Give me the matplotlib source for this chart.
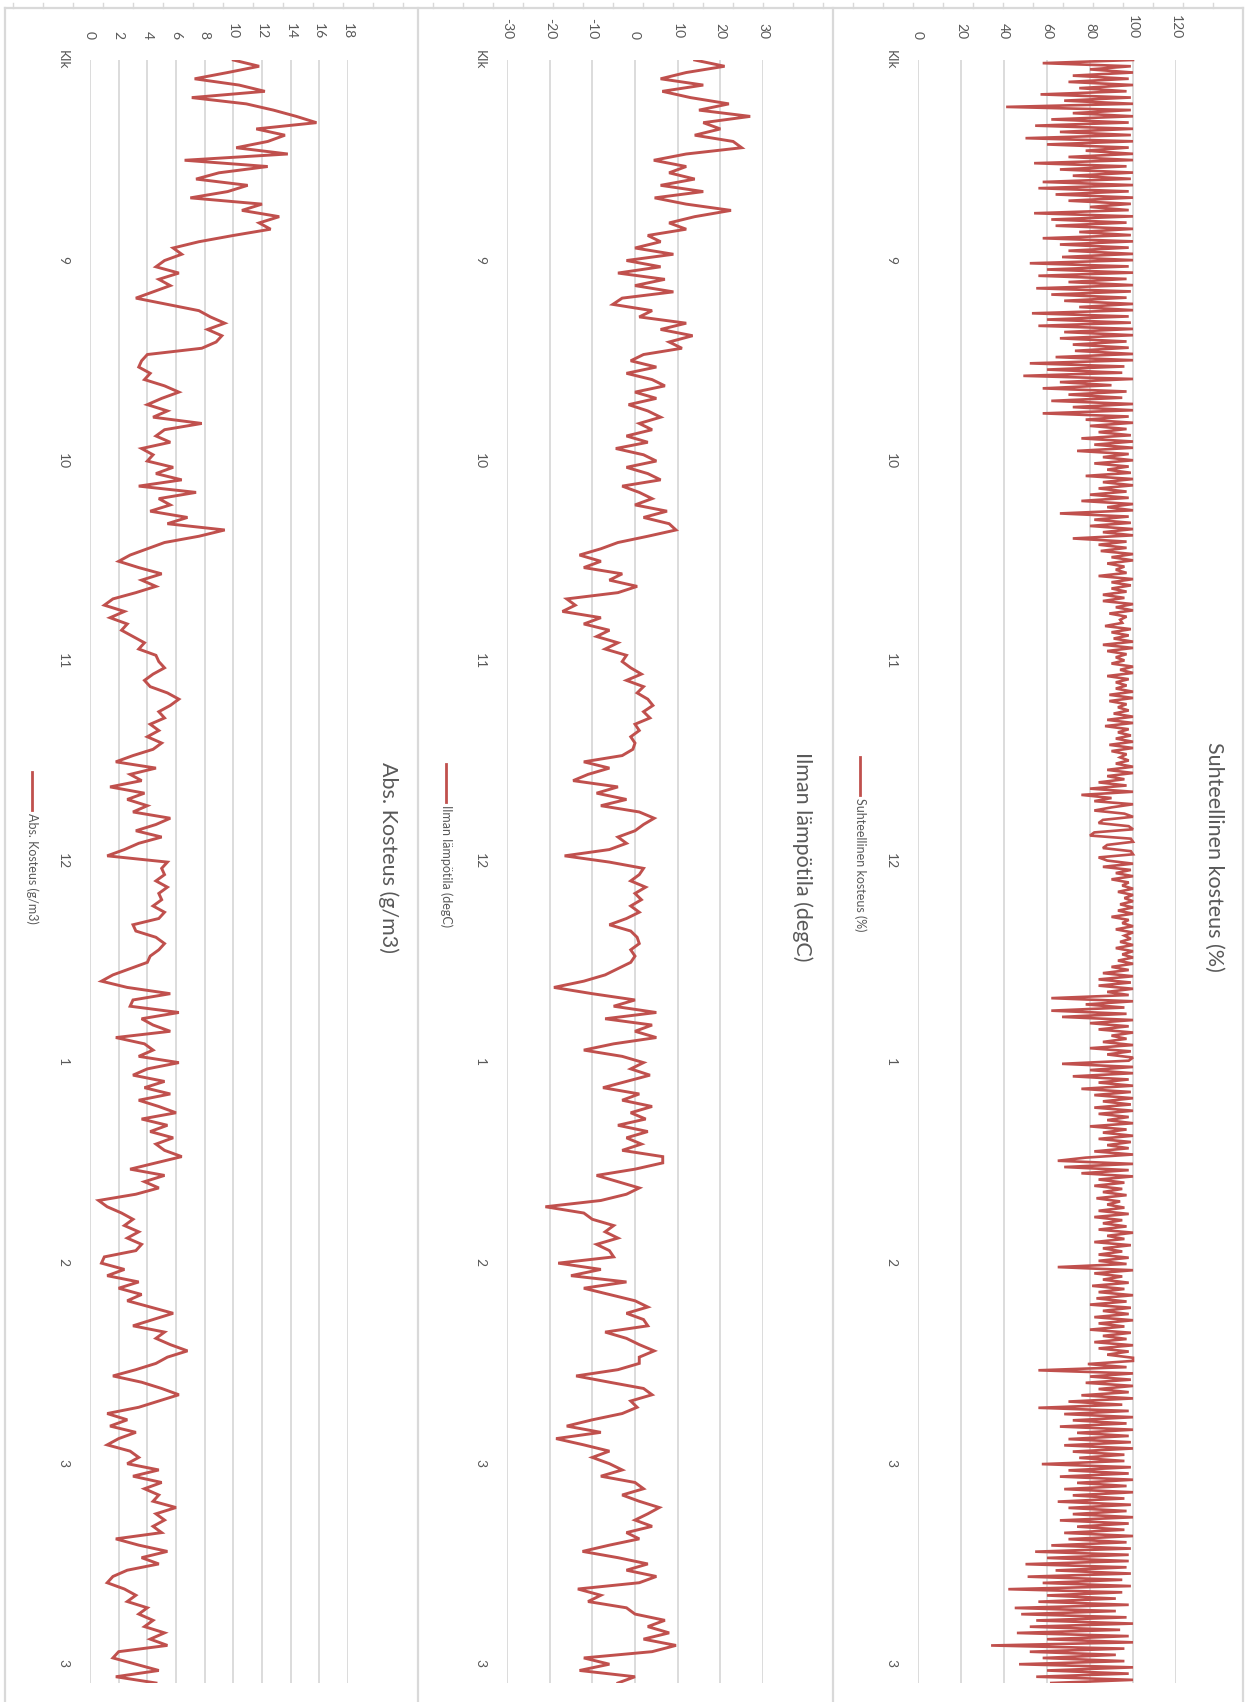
import numpy as np
import matplotlib
matplotlib.use("Agg")
import matplotlib.pyplot as plt
from matplotlib.lines import Line2D

plt.rcParams['font.family'] = ['Lato', 'DejaVu Sans']

# ---------------- data ----------------
time_labels = ["Klk", "9", "10", "11", "12", "1", "2", "3", "3"]

rh_values = [
    100, 58, 99, 80, 100, 72, 98, 70, 100, 75, 97, 57, 99, 68, 100, 41, 99, 72, 100, 62, 98, 54.5, 100, 66, 99, 50, 100, 60, 98, 78, 100, 70,
    100, 54, 97, 66, 100, 72, 99, 58, 100, 56, 98, 64, 100, 70, 99, 80, 98, 54, 100, 62, 97, 64, 100, 75, 99, 58, 100, 66, 98, 70, 100, 67,
    100, 52, 98, 60, 100, 56, 97, 70, 100, 55, 99, 62, 97, 68, 100, 75, 100, 53, 98, 60, 99, 56, 100, 68, 100, 66, 97, 72, 98, 73, 100, 64,
    100, 52, 96, 60, 95, 49, 100, 66, 90, 58, 97, 70, 95, 62, 100, 72, 100, 58, 98, 78, 100, 80, 97, 84, 99, 76, 100, 82, 100, 74, 98, 86,
    100, 82, 98, 88, 99, 78, 100, 86, 100, 84, 97, 80, 98, 76, 100, 88, 100, 66, 98, 82, 99, 80, 100, 86, 100, 72, 97, 84, 97, 85, 100, 90,
    100, 88, 96, 92, 97, 84, 100, 90, 99, 90, 97, 86, 96, 86, 100, 92, 100, 89, 97, 94, 95, 87, 99, 90, 98, 91, 100, 86, 100, 88, 97, 92,
    96, 90, 100, 94, 100, 88, 98, 92, 97, 92, 100, 89, 100, 89, 97, 93, 98, 91, 100, 88, 100, 87, 98, 93, 99, 92, 100, 89, 100, 90, 97, 94,
    98, 92, 100, 88, 100, 88, 96, 84, 97, 80, 100, 76, 90, 82, 100, 90, 82, 96, 100, 86, 84, 98, 100, 82, 80, 99, 100, 88, 86, 99, 100, 84,
    88, 100, 86, 99, 92, 100, 90, 98, 95, 100, 93, 100, 96, 100, 94, 100, 93, 100, 90, 98, 95, 100, 92, 100, 96, 99, 94, 100, 92, 100, 95, 100,
    93, 100, 90, 98, 86, 100, 84, 99, 84, 100, 88, 98, 62, 100, 78, 96, 62, 97, 67, 100, 80, 98, 84, 100, 90, 97, 86, 100, 80, 99, 88, 100,
    98, 67, 100, 80, 100, 72, 98, 84, 100, 76, 99, 82, 100, 86, 99, 82, 100, 84, 98, 88, 100, 80, 97, 86, 100, 84, 99, 88, 98, 82, 100, 78,
    65, 100, 68, 98, 76, 100, 84, 96, 82, 95, 86, 97, 83, 94, 88, 96, 84, 98, 82, 95, 86, 97, 84, 100, 88, 96, 82, 99, 86, 95, 84, 98,
    84, 97, 65, 100, 82, 95, 86, 98, 81, 96, 84, 100, 83, 97, 80, 99, 86, 98, 82, 100, 84, 96, 80, 99, 86, 97, 82, 100, 84, 98, 88, 100,
    100, 79, 97, 56, 100, 80, 99, 78, 100, 84, 98, 76, 100, 70, 95, 56, 98, 68, 100, 72, 97, 66, 100, 74, 98, 70, 99, 68, 100, 72, 96, 75,
    96, 57.6, 99, 70, 98, 66, 100, 74, 97, 68, 100, 72, 96, 65, 99, 70, 97, 72, 100, 66, 98, 74, 96, 68, 100, 70, 97, 62, 99, 54.5, 98, 60,
    98, 50, 97, 64, 99, 51, 95, 58, 99, 42, 95, 60, 92, 56, 98, 45, 92, 48, 97, 55, 100, 52, 94, 46, 98, 60, 100, 34, 96, 52, 92, 58,
    96, 47, 100, 60, 98, 55, 100, 62,
]

temp_values = [
    14.0, 21.0, 12.0, 6.0, 16.0, 6.4, 13.0, 22.0, 15.0, 27.0, 16.0, 20.0, 14.0, 23.0, 25.0, 12.0,
    4.4, 12.0, 8.0, 14.0, 6.0, 16.0, 4.6, 12.0, 22.5, 14.0, 8.0, 12.0, 3.0, 6.0, 0.0, 9.0,
    -2.0, 6.0, -4.0, 7.0, 0.0, 9.0, -3.0, -5.2, 4.0, 1.0, 12.0, 6.0, 13.5, 8.0, 11.0, 2.0,
    -1.0, 5.0, -2.0, 4.0, 7.0, 0.0, 5.0, -1.5, 3.0, 6.0, 1.0, 4.0, -2.0, 3.0, -4.5, 2.0,
    5.0, -2.0, 3.0, 6.0, -3.0, 1.0, 4.0, 0.0, 7.5, 2.0, 8.0, 9.6, 3.0, -4.0, -8.0, -13.0,
    -8.0, -12.0, -3.0, -6.0, 0.5, -4.0, -16.0, -14.0, -17.0, -8.0, -12.0, -6.0, -9.0, -4.0, -7.0, -2.0,
    -3.0, -1.0, 1.5, -2.0, 2.0, 0.5, 3.0, 4.2, 2.0, 3.5, 0.0, 1.0, -1.0, 0.0, -0.5, -3.0,
    -12.0, -6.0, -11.0, -14.5, -4.0, -9.0, -2.0, -8.0, 1.0, 4.5, 2.0, 0.0, -4.0, -2.0, -6.0, -16.5,
    -6.0, 2.0, 1.0, -1.0, 2.5, 0.0, 1.5, -1.0, 1.0, -2.0, -6.0, -1.0, 0.5, 1.0, -1.0, 0.0,
    -1.0, -4.0, -7.0, -12.0, -19.0, -10.0, 0.0, -5.0, 5.0, -7.0, 4.0, 0.0, 5.0, -5.0, -12.0, -3.0,
    2.0, -1.0, 3.5, -2.0, -7.5, 1.0, -3.0, 4.0, -1.0, 2.5, -4.0, 3.0, -2.0, 1.5, -3.0, 6.5,
    6.5, 0.0, -9.0, -4.0, 1.0, -2.0, -8.0, -21.0, -12.0, -10.0, -5.0, -7.0, -4.0, -9.0, -6.0, -5.0,
    -18.0, -8.0, -15.0, -2.0, -12.0, -6.0, 0.0, 3.0, -2.0, 2.0, 3.0, -7.0, -2.0, 1.0, 4.5, 1.0,
    1.0, -4.0, -13.8, -6.0, 2.0, 4.0, -1.0, 0.5, -3.0, -10.0, -16.0, -8.0, -18.5, -12.0, -6.0, -10.0,
    -6.0, -3.0, -8.0, 0.0, 2.0, -3.0, 1.0, 5.7, 3.0, 0.0, 4.0, -2.0, 1.0, -6.0, -12.3, -4.0,
    3.0, -2.0, 5.0, 1.0, -13.4, -8.0, -11.0, -2.0, 0.0, 7.0, 3.0, 8.0, 2.0, 9.6, 4.0, -12.0,
    -6.0, -13.0, 0.0, -4.0,
]

abs_values = [
    10.0, 11.8, 9.6, 7.3, 10.4, 12.2, 7.1, 10.9, 12.8, 14.4, 15.8, 11.6, 13.6, 12.4, 10.2, 13.8,
    6.6, 12.4, 9.0, 7.4, 11.0, 9.6, 7.0, 12.0, 10.6, 13.2, 11.8, 12.6, 10.0, 7.6, 5.8, 6.4,
    5.2, 4.6, 6.2, 4.8, 5.6, 4.4, 3.2, 5.4, 7.6, 8.4, 9.4, 8.2, 9.2, 8.8, 7.8, 4.0,
    3.6, 3.4, 4.2, 3.8, 5.2, 6.2, 5.0, 4.0, 5.4, 4.4, 7.8, 5.2, 4.6, 5.6, 3.6, 4.4,
    4.0, 5.8, 4.6, 6.4, 3.4, 7.4, 4.8, 5.6, 4.2, 6.8, 5.4, 9.4, 7.6, 5.2, 4.0, 2.8,
    2.0, 3.4, 5.0, 3.6, 4.6, 3.2, 1.6, 1.0, 2.4, 1.4, 2.6, 2.2, 3.0, 3.8, 3.4, 4.6,
    4.8, 5.2, 4.4, 3.8, 4.2, 5.4, 6.2, 5.6, 4.8, 5.2, 4.2, 4.8, 4.0, 5.0, 4.4, 3.0,
    1.8, 4.6, 2.8, 3.6, 1.4, 3.8, 2.6, 4.0, 3.0, 5.6, 4.6, 3.2, 5.0, 3.4, 2.4, 1.2,
    5.4, 5.0, 5.2, 4.6, 5.4, 4.8, 5.0, 4.4, 5.2, 4.8, 3.0, 3.2, 4.6, 5.2, 4.8, 4.2,
    4.0, 2.8, 1.6, 0.8, 2.6, 5.6, 3.0, 2.8, 6.2, 3.6, 4.4, 5.6, 1.8, 3.8, 4.4, 3.4,
    6.2, 4.0, 3.0, 5.2, 3.8, 5.6, 3.4, 4.8, 6.0, 3.6, 5.4, 4.2, 5.8, 4.6, 5.2, 6.4,
    4.6, 2.8, 5.2, 3.8, 4.8, 3.2, 0.6, 1.2, 2.2, 3.0, 2.4, 3.4, 2.6, 3.6, 3.2, 1.0,
    0.8, 2.4, 1.2, 3.4, 2.0, 3.6, 2.6, 4.2, 5.8, 4.4, 3.0, 5.2, 4.6, 5.6, 6.8, 5.4,
    4.6, 3.2, 1.6, 3.6, 5.0, 6.2, 4.8, 3.4, 1.2, 2.6, 1.4, 3.2, 2.0, 1.2, 2.8, 3.4,
    2.6, 4.8, 3.0, 5.0, 3.8, 4.8, 4.4, 6.0, 4.6, 5.2, 4.4, 5.0, 1.8, 3.4, 5.4, 3.6,
    4.8, 2.6, 1.6, 1.2, 2.4, 3.2, 2.6, 4.0, 3.4, 4.4, 3.8, 5.2, 4.2, 5.4, 2.0, 1.6,
    3.2, 4.8, 1.8, 4.6,
]

rh_ticks = [0, 20, 40, 60, 80, 100, 120]
temp_ticks = [-30, -20, -10, 0, 10, 20, 30]
abs_ticks = [0, 2, 4, 6, 8, 10, 12, 14, 16, 18]

titles = ["Suhteellinen kosteus (%)", "Ilman lämpötila (degC)", "Abs. Kosteus (g/m3)"]
legend_labels = ["Suhteellinen kosteus (%)", "Ilman lämpötila (degC)", "Abs. Kosteus (g/m3)"]

# ---------------- styling ----------------
W, H = 1254, 1702
LINE_C = "#c0504d"
GRID_C = "#d9d9d9"
TEXT_C = "#595959"
T_END = 8.1

fig = plt.figure(figsize=(W / 100, H / 100), dpi=100)
fig.patch.set_facecolor("white")


def fx(x):
    return x / W


def fy(y):
    return 1 - y / H


PLOT_TOP, PLOT_BOT = 60, 1683

panels = [
    dict(vals=rh_values, ticks=rh_ticks, left=918, right=1176, lim=(0, 120), lw=1.9,
         title=titles[0], title_x=1214, leg=legend_labels[0], leg_x=860, leg_y=757),
    dict(vals=temp_values, ticks=temp_ticks, left=507, right=763, lim=(-30, 30), lw=2.1,
         title=titles[1], title_x=802, leg=legend_labels[1], leg_x=446, leg_y=764),
    dict(vals=abs_values, ticks=abs_ticks, left=90, right=348, lim=(0, 18), lw=2.1,
         title=titles[2], title_x=388, leg=legend_labels[2], leg_x=32, leg_y=772),
]

for p in panels:
    ax = fig.add_axes([fx(p["left"]), fy(PLOT_BOT), (p["right"] - p["left"]) / W,
                       (PLOT_BOT - PLOT_TOP) / H])
    vals = np.array(p["vals"], dtype=float)
    t = np.linspace(0, T_END, len(vals))
    ax.plot(vals, t, color=LINE_C, lw=p["lw"], solid_joinstyle="miter", zorder=3)
    ax.set_xlim(*p["lim"])
    ax.set_ylim(T_END, 0)
    ax.set_xticks(p["ticks"])
    ax.set_xticklabels([str(v) for v in p["ticks"]])
    ax.set_yticks(range(len(time_labels)))
    ax.set_yticklabels(time_labels)
    ax.xaxis.tick_top()
    ax.grid(axis="x", color=GRID_C, lw=1.3, zorder=0)
    ax.grid(axis="y", visible=False)
    ax.set_axisbelow(True)
    for s in ax.spines.values():
        s.set_visible(False)
    ax.tick_params(axis="both", length=0, colors=TEXT_C, labelsize=10)
    ax.tick_params(axis="x", pad=15)
    ax.tick_params(axis="y", pad=15)
    for lab in ax.get_xticklabels():
        lab.set_rotation(-90)
        lab.set_ha("center")
        lab.set_va("bottom")
    for lab in ax.get_yticklabels():
        lab.set_rotation(-90)
        lab.set_ha("right")
        lab.set_va("center")
    ax.patch.set_alpha(0)

    # title (rotated)
    fig.text(fx(p["title_x"]), fy(857), p["title"], rotation=-90, ha="center",
             va="center", fontsize=15.5, color=TEXT_C)
    # legend (rotated)
    lx = p["leg_x"]
    ly = p["leg_y"]
    fig.add_artist(Line2D([fx(lx), fx(lx)], [fy(ly), fy(ly + 38)], color=LINE_C,
                          lw=2.0, transform=fig.transFigure))
    fig.text(fx(lx), fy(ly + 41), p["leg"], rotation=-90, ha="center", va="top",
             fontsize=9, color=TEXT_C)

# frame / separators
for x in [5, 418, 833, 1243]:
    fig.add_artist(Line2D([fx(x), fx(x)], [fy(8), fy(H)], color=GRID_C, lw=1.6,
                          transform=fig.transFigure))
fig.add_artist(Line2D([fx(5), fx(1243)], [fy(8), fy(8)], color=GRID_C, lw=1.6,
                      transform=fig.transFigure))
for x in range(13, 1243, 30):
    fig.add_artist(Line2D([fx(x), fx(x)], [fy(3), fy(8)], color=GRID_C, lw=1.0,
                          transform=fig.transFigure))

fig.savefig("out.png", dpi=100, facecolor="white")
